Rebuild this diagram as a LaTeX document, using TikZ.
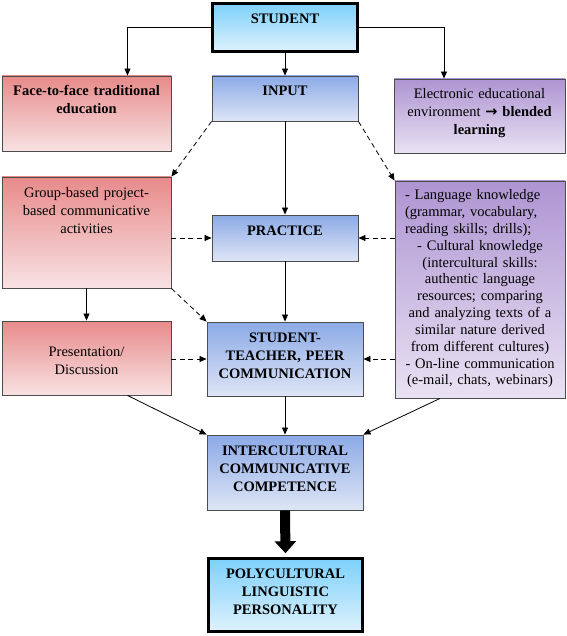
\documentclass[tikz,border=0pt]{standalone}
\usepackage{fontspec}
\setmainfont{Liberation Serif}
\newfontfamily\arrowfont{DejaVu Sans}
\usetikzlibrary{arrows.meta}
\definecolor{skytop}{RGB}{125,208,250}
\definecolor{skybot}{RGB}{222,242,253}
\definecolor{bluetop}{RGB}{140,170,230}
\definecolor{bluebot}{RGB}{222,229,246}
\definecolor{redtop}{RGB}{232,138,138}
\definecolor{redbot}{RGB}{248,226,227}
\definecolor{purptop}{RGB}{174,148,210}
\definecolor{purpbot}{RGB}{233,226,243}

\begin{document}
\begin{tikzpicture}[
    x=1pt, y=-1pt,
    every node/.style={draw=black!70, line width=0.9pt, align=center, inner xsep=4pt,
      inner ysep=0pt, text height=20pt, font=\fontsize{14.5}{18}\selectfont},
    keybox/.style={draw=black, line width=2.6pt, top color=skytop, bottom color=skybot,
      font=\fontsize{14.5}{18}\selectfont\bfseries},
    stagebox/.style={top color=bluetop, bottom color=bluebot,
      font=\fontsize{14.5}{18}\selectfont\bfseries},
    classbox/.style={top color=redtop, bottom color=redbot},
    onlinebox/.style={top color=purptop, bottom color=purpbot},
    arr/.style={-{Triangle[length=7pt,width=6pt]}, line width=0.8pt},
    dasharr/.style={arr, dash pattern=on 5pt off 3.5pt}
  ]
  \useasboundingbox (0,0) rectangle (566,636);

  % central column
  \node[keybox, text width=137pt, text depth=28pt] (student) at (285,27.5) {STUDENT};
  \node[stagebox, text width=138pt, text depth=25pt] (input) at (285,98.5) {INPUT};
  \node[stagebox, text width=138pt, text depth=26pt] (practice) at (285,238) {PRACTICE};
  \node[stagebox, text width=148pt, text depth=54pt] (dialogue) at (285,359)
    {STUDENT-\\TEACHER, PEER\\COMMUNICATION};
  \node[stagebox, text width=148pt, text depth=55pt] (competence) at (285,472.5)
    {INTERCULTURAL\\COMMUNICATIVE\\COMPETENCE};
  \node[keybox, text width=146pt, text depth=53pt] (personality) at (285.5,595)
    {POLYCULTURAL\\LINGUISTIC\\PERSONALITY};

  % classroom side
  \node[classbox, text width=161pt, text depth=55pt] (face) at (86.5,113.5)
    {\textbf{Face-to-face traditional\\education}};
  \node[classbox, text width=161pt, text depth=91pt] (group) at (86.5,232.5)
    {Group-based project-\\based communicative\\activities};
  \node[classbox, text width=161pt, text height=35pt, text depth=39pt] (pres) at (86.5,358)
    {Presentation/\\Discussion};

  % online side
  \node[onlinebox, text width=163pt, text depth=54pt] (elec) at (479.5,116)
    {Electronic educational\\environment {\arrowfont\bfseries →} \textbf{blended\\learning}};
  \node[onlinebox, text width=150pt, inner xsep=10pt, text height=19pt, text depth=198pt,
    font=\fontsize{14.5}{16.8}\selectfont] (lang) at (480,289.5)
    {{\raggedright - Language knowledge\\(grammar, vocabulary,\\reading skills; drills);\par}
     - Cultural knowledge\\(intercultural skills:\\authentic language\\resources; comparing\\
     and analyzing texts of a\\similar nature derived\\from different cultures)\\
     - On-line communication\\(e-mail, chats, webinars)};

  \draw[arr] (student.west) -| ([xshift=41pt]face.north);
  \draw[arr] (student.east) -| ([xshift=-35.5pt]elec.north);
  \draw[arr] (student.south) -- (input.north);
  \draw[arr] (input.south) -- (practice.north);
  \draw[arr] (practice.south) -- (dialogue.north);
  \draw[arr] (dialogue.south) -- (competence.north);
  \draw[dasharr] (input.south west) -- (group.north east);
  \draw[dasharr] (input.south east) -- (lang.north west);
  \draw[dasharr] (group.east |- practice.west) -- (practice.west);
  \draw[dasharr] (lang.west |- practice.east) -- (practice.east);
  \draw[arr] (group.south) -- (pres.north);
  \draw[dasharr] (group.south east) -- (dialogue.north west);
  \draw[dasharr] (pres.east |- dialogue.west) -- (dialogue.west);
  \draw[dasharr] (lang.west |- dialogue.east) -- (dialogue.east);
  \draw[arr] ([xshift=41pt]pres.south) -- (competence.north west);
  \draw[arr] ([xshift=-40pt]lang.south) -- (competence.north east);
  \draw[line width=10pt, -{Triangle[length=12pt,width=21pt]}, shorten >=4pt]
    (competence.south) -- (personality.north);
\end{tikzpicture}
\end{document}
